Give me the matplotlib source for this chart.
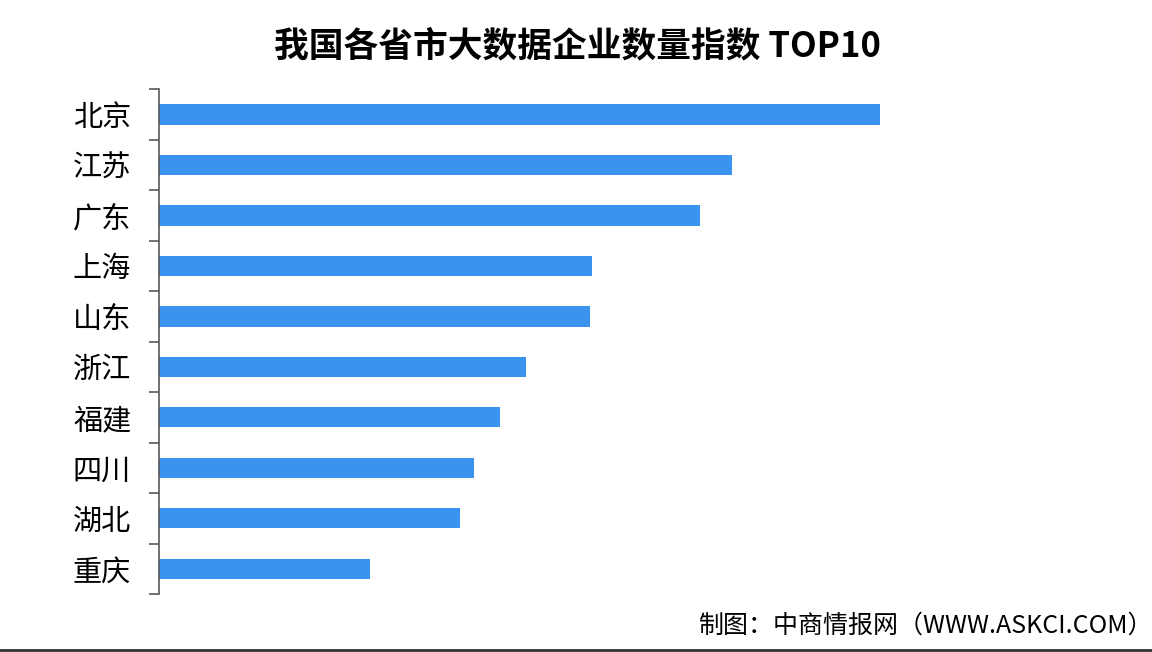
import matplotlib
matplotlib.use('Agg')
import matplotlib.pyplot as plt
import numpy as np

plt.rcParams['font.family'] = ['Noto Sans CJK SC', 'DejaVu Sans']

provinces = ['北京', '江苏', '广东', '上海', '山东', '浙江', '福建', '四川', '湖北', '重庆']
index_values = [100, 79.5, 75.0, 60.1, 59.8, 50.9, 47.3, 43.7, 41.7, 29.3]

fig = plt.figure(figsize=(11.52, 6.52), dpi=100)
ax = fig.add_axes([0.138, 0.089, 0.812, 0.774])

y = np.arange(len(provinces))
ax.barh(y, index_values, height=0.4, color='#3a93ee')
ax.set_ylim(len(provinces) - 0.5, -0.5)
ax.set_xlim(0, 129.7)

ax.set_yticks(y)
ax.set_yticklabels(provinces, fontsize=21)
ax.set_yticks(np.arange(len(provinces) + 1) - 0.5, minor=True)
ax.tick_params(axis='y', which='major', length=0, pad=20)
ax.tick_params(axis='y', which='minor', length=7, width=1.2, color='#595959', direction='out')
ax.set_xticks([])
for s in ['top', 'right', 'bottom']:
    ax.spines[s].set_visible(False)
ax.spines['left'].set_color('#595959')
ax.spines['left'].set_linewidth(1.2)

fig.text(0.501, 0.93, '我国各省市大数据企业数量指数 TOP10', ha='center', va='center',
         fontsize=25, fontweight='bold')
fig.text(1.001, 0.04, '制图：中商情报网（WWW.ASKCI.COM）', ha='right', va='center', fontsize=18)

# bottom border line
fig.add_artist(plt.Line2D([0, 1], [0.003, 0.003], color='#333333', linewidth=2))

fig.savefig('out.png', dpi=100, facecolor='white')
